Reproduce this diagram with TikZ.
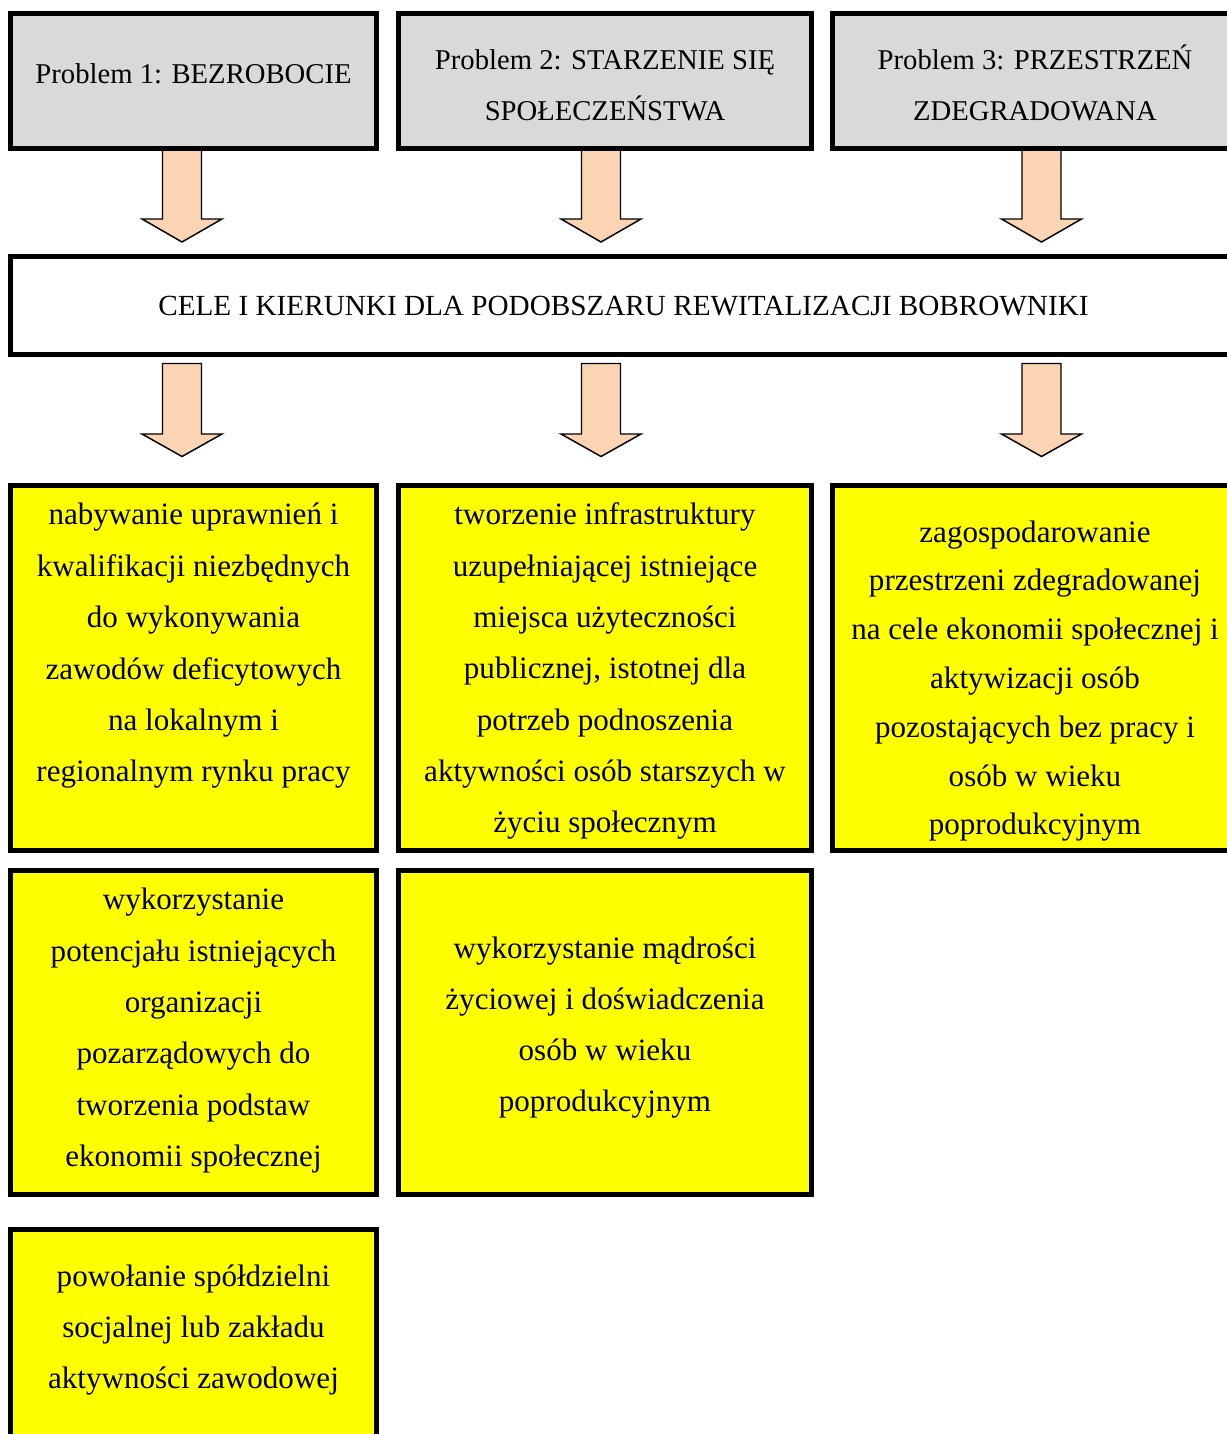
\documentclass[tikz,border=0pt]{standalone}
\usepackage{fontspec}
\setmainfont{Liberation Serif}
\definecolor{probgrey}{HTML}{D9D9D9}
\definecolor{goalyellow}{HTML}{FFFF00}
\definecolor{arrowpeach}{HTML}{FBD4B4}
\tikzset{
  frame/.style={draw=black, line width=3.5pt, inner sep=0pt, outer sep=0pt},
  probbox/.style={frame, fill=probgrey},
  mainbox/.style={frame, fill=white},
  goalbox/.style={frame, fill=goalyellow},
  sized/.style 2 args={minimum width=#1*0.75pt, minimum height=#2*0.75pt},
  txt/.style={align=center, inner sep=0pt, text=black},
  blockarrow/.style={draw=black, line width=1.1pt, fill=arrowpeach, line join=miter},
}
\newcommand{\downarrowshape}[4]{% cx, top, shoulder, tip
  \draw[blockarrow] (#1-19.5,#2) -- (#1+19.5,#2) -- (#1+19.5,#3) -- (#1+40,#3)
    -- (#1,#4) -- (#1-40,#3) -- (#1-19.5,#3) -- cycle;}
\begin{document}
\begin{tikzpicture}[x=0.75pt, y=-0.75pt]
\useasboundingbox (0,0) rectangle (1227,1434);
\clip (0,0) rectangle (1227,1434);

% upper block arrows (drawn first, boxes cover their tops)
\downarrowshape{182}{149}{219}{242}
\downarrowshape{601}{149}{219}{242}
\downarrowshape{1041.5}{149}{219}{242}

% lower block arrows
\downarrowshape{182}{363.5}{434}{456.5}
\downarrowshape{601}{363.5}{434}{456.5}
\downarrowshape{1041.5}{363.5}{434}{456.5}

% problem boxes
\node[probbox, sized={366}{135}] (p1) at (193.5,81) {};
\node[probbox, sized={413}{135}] (p2) at (605,81) {};
\node[probbox, sized={405}{135}] (p3) at (1035,81) {};
\node[txt, font=\fontsize{21.5}{38}\selectfont] (p1t) at (193.5,73.2)
  {\strut Problem 1: BEZROBOCIE\strut};
\node[txt, font=\fontsize{21.5}{38}\selectfont] (p2t) at (605,85.2)
  {\strut Problem 2: STARZENIE SIĘ\\SPOŁECZEŃSTWA\strut};
\node[txt, font=\fontsize{21.5}{38}\selectfont] (p3t) at (1035,85.2)
  {\strut Problem 3: PRZESTRZEŃ\\ZDEGRADOWANA\strut};

% main box
\node[mainbox, sized={1227}{98}] (main) at (624,305.5) {};
\node[txt, font=\fontsize{21.9}{30}\selectfont] (maint) at (623.5,307)
  {\strut CELE I KIERUNKI DLA PODOBSZARU REWITALIZACJI BOBROWNIKI\strut};

% goal boxes, row 1
\node[goalbox, sized={366}{365}] (g11) at (193.5,668) {};
\node[goalbox, sized={413}{365}] (g12) at (605,668) {};
\node[goalbox, sized={405}{365}] (g13) at (1035,668) {};
\node[txt, font=\fontsize{23.3}{38.55}\selectfont] (g11t) at (193.5,643.2)
  {\strut nabywanie uprawnień i\\kwalifikacji niezbędnych\\do wykonywania\\zawodów deficytowych\\na lokalnym i\\regionalnym rynku pracy\strut};
\node[txt, font=\fontsize{23.3}{38.5}\selectfont] (g12t) at (605,668.7)
  {\strut tworzenie infrastruktury\\uzupełniającej istniejące\\miejsca użyteczności\\publicznej, istotnej dla\\potrzeb podnoszenia\\aktywności osób starszych w\\życiu społecznym\strut};
\node[txt, font=\fontsize{23.3}{36.6}\selectfont] (g13t) at (1035,678.7)
  {\strut zagospodarowanie\\przestrzeni zdegradowanej\\na cele ekonomii społecznej i\\aktywizacji osób\\pozostających bez pracy i\\osób w wieku\\poprodukcyjnym\strut};

% goal boxes, row 2
\node[goalbox, sized={366}{324}] (g21) at (193.5,1032.5) {};
\node[goalbox, sized={413}{324}] (g22) at (605,1032.5) {};
\node[txt, font=\fontsize{23.3}{38.5}\selectfont] (g21t) at (193.5,1028)
  {\strut wykorzystanie\\potencjału istniejących\\organizacji\\pozarządowych do\\tworzenia podstaw\\ekonomii społecznej\strut};
\node[txt, font=\fontsize{23.3}{38.3}\selectfont] (g22t) at (605,1024.8)
  {\strut wykorzystanie mądrości\\życiowej i doświadczenia\\osób w wieku\\poprodukcyjnym\strut};

% goal box, row 3
\node[goalbox, sized={366}{260}] (g31) at (193.5,1359.5) {};
\node[txt, font=\fontsize{23.3}{38.4}\selectfont] (g31t) at (193.5,1327)
  {\strut powołanie spółdzielni\\socjalnej lub zakładu\\aktywności zawodowej\strut};
\end{tikzpicture}
\end{document}
